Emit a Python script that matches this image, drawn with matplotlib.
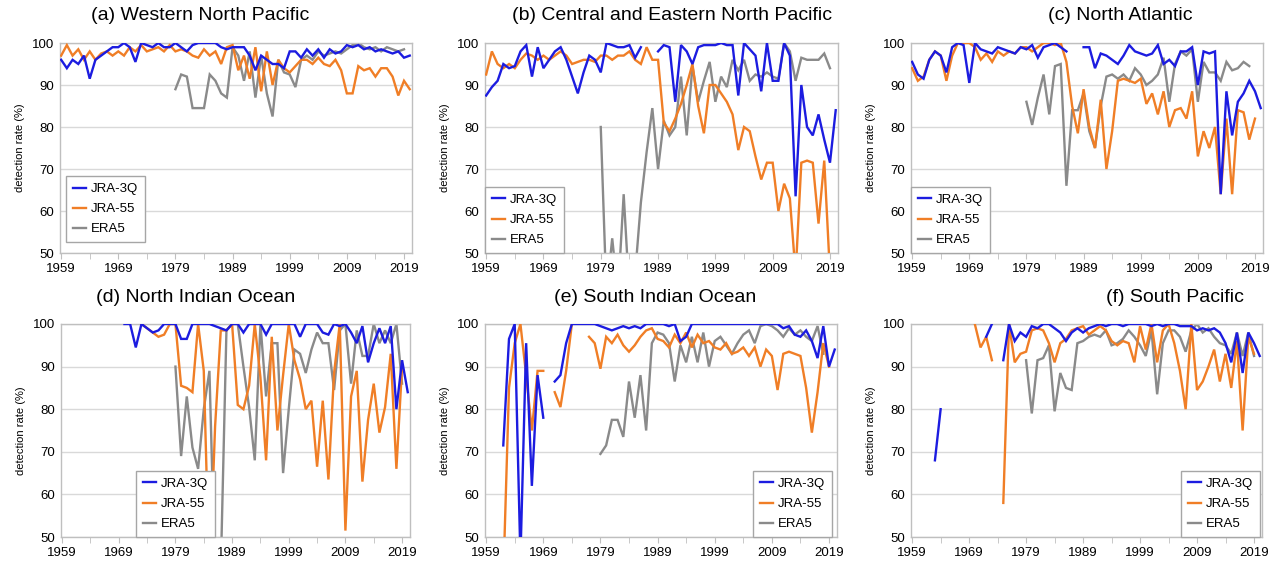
import numpy as np
import matplotlib
matplotlib.use('Agg')
import matplotlib.pyplot as plt
from matplotlib.ticker import MultipleLocator, FixedLocator

plt.rcParams['font.family'] = ['Liberation Sans', 'DejaVu Sans']

nan = np.nan
YEARS = np.arange(1959, 2021)

# (a) Western North Pacific
wnp_jra3q = [96, 94, 96, 95, 97, 91.5, 96, 97, 98, 99,
             99, 100, 99, 95.5, 100, 99.5, 99, 100, 99, 99,
             100, 99, 98, 99.5, 100, 100, 100, 100, 99, 98.5,
             99, 99, 99, 97, 93.5, 97, 96, 95, 95, 94,
             98, 98, 96.5, 98.5, 97, 98.5, 96.5, 98.5, 97.5, 98,
             99.5, 99, 99.5, 98.5, 99, 98, 98.5, 98, 97.5, 98,
             96.5, 97]
wnp_jra55 = [97, 99.5, 97, 98.5, 96, 98, 96, 97.5, 98, 97,
             98, 97, 99, 98, 99.5, 98, 98.5, 99, 98, 99.5,
             98, 98.5, 98, 97, 96.5, 98.5, 97, 98, 95, 99,
             99.5, 93.5, 97, 91.5, 99, 88.5, 98, 90, 96, 94,
             93, 94.5, 96, 96, 95, 96.5, 95, 94.5, 96, 93.5,
             88, 88, 94.5, 93.5, 94, 92, 94, 94, 92, 87.5,
             91, 89]
wnp_era5 = [89, 92.5, 92, 84.5, 84.5, 84.5, 92.5, 91, 88, 87,
            99, 97, 91, 98, 87, 97, 88, 82.5, 96, 93,
            92.5, 89.5, 96, 97, 96, 98, 97, 97.5, 98, 97.5,
            98.5, 99.5, 100, 99, 98.5, 99, 98, 99, 98.5, 98, 98.5]

# (b) Central and Eastern North Pacific
cenp_jra3q = [87.5, 89.5, 91, 95, 94, 94.5, 98, 99.5, 92, 99,
              94, 96, 98, 99, 96, 92, 88, 93, 97, 96,
              93, 100, 99.5, 99, 99, 99.5, 96.5, 99, nan, nan,
              98, 99.5, 99, 86, 99.5, 98, 95, 99, 99.5, 99.5,
              99.5, 100, 99.5, 99.5, 87.5, 100, 98.5, 97, 88.5, 100,
              91, 91, 100, 97, 63.5, 90, 80, 78, 83, 77,
              71.5, 84]
cenp_jra55 = [92.5, 98, 95, 94, 95, 94, 96, 97.5, 97, 96,
              97, 96, 97, 98, 97, 95, 95.5, 96, 96, 95.5,
              97, 97, 96, 97, 97, 98, 96, 95, 99, 96,
              96, 81, 79, 82, 85.5, 90, 95, 85, 78.5, 90,
              90, 88, 86, 83, 74.5, 80, 79, 73, 67.5, 71.5,
              71.5, 60, 66.5, 63, 45, 71.5, 72, 71.5, 57, 72,
              45, nan]
cenp_era5 = [80, 40, 53.5, 40, 64, 40, 45, 62, 74, 84.5,
             70, 81.5, 78, 80, 92, 78, 94.5, 86, 91, 95.5,
             86, 92, 89.5, 96, 93.5, 96, 91, 92.5, 92, 93,
             92, 91.5, 100, 98, 91, 96.5, 96, 96, 96, 97.5, 94]

# (c) North Atlantic
na_jra3q = [95.5, 92.5, 91.5, 96, 98, 97, 93, 99, 100, 99.5,
            90.5, 100, 98.5, 98, 97.5, 99, 98.5, 98, 97.5, 99,
            98.5, 99.5, 96.5, 99, 99.5, 100, 99, 98, nan, nan,
            99, 99, 94, 97.5, 97, 96, 95, 97, 99.5, 98,
            97.5, 97, 97.5, 99.5, 95, 96, 94.5, 98, 98, 99,
            90, 98, 97.5, 98, 64, 88.5, 78, 86, 88, 91,
            88.5, 84.5]
na_jra55 = [94, 91, 92, 96, 98, 97, 91, 97, 100, 100,
            100, 99, 96, 97.5, 95.5, 98, 97, 98, 97.5, 99,
            99, 98, 99, 100, 100, 99.5, 100, 95.5, 85, 78.5,
            89, 80, 75, 86.5, 70, 79, 91, 91.5, 91, 90.5,
            91.5, 85.5, 88, 83, 88.5, 80, 84, 84.5, 82, 88.5,
            73, 79, 75, 80, 64, 82, 64, 84, 83.5, 77,
            82, nan]
na_era5 = [86, 80.5, 87, 92.5, 83, 94.5, 95, 66, 84, 84,
           88, 79, 75, 85, 92, 92.5, 91.5, 92.5, 91, 94,
           92.5, 90, 91, 92.5, 96.5, 86, 95, 98, 97, 98.5,
           86, 95.5, 93, 93, 91, 95.5, 93.5, 94, 95.5, 94.5]

# (d) North Indian Ocean
nio_jra3q = [100, 100, 94.5, 100, 99, 98, 98.5, 100, 100, 100,
             96.5, 96.5, 100, 100, 100, 100, 99.5, 99, 98.5, 100,
             100, 98, 100, 100, 100, 97.5, 100, 100, 100, 100,
             100, 97, 100, 100, 100, 98, 97.5, 100, 99.5, 100,
             98, 95.5, 99.5, 91, 95.5, 99, 95.5, 99.5, 80, 91.5,
             84]
nio_jra55 = [100, 99, 98, 97, 97.5, 100, 100, 85.5, 85, 84,
             100, 89, 40, 76, 98.5, 98.5, 100, 81, 80, 85.5,
             100, 87.5, 68, 97, 75, 88, 100, 91.5, 87, 80,
             82, 66.5, 82, 63.5, 88.5, 100, 51.5, 83, 89, 63,
             77.5, 86, 74.5, 80.5, 93, 66, 90]
nio_era5 = [90, 69, 83, 71, 66, 80, 89, 40, 42, 98.5,
            100, 100, 90, 80.5, 68, 100, 83, 95.5, 95.5, 65,
            80, 94, 93, 88.5, 94, 98, 95.5, 95.5, 84.5, 98.5,
            100, 86, 98.5, 92.5, 92.5, 100, 95.5, 98.5, 95.5, 100, 86]

# (e) South Indian Ocean
sio_jra3q = [71.5, 96.5, 100, 45, 95.5, 62, 88, 78, nan, 86.5,
             88, 95.5, 100, 100, 100, 100, 100, 99.5, 99, 98.5,
             99, 99.5, 99, 99.5, 99, 100, 100, 100, 100, 99.5,
             100, 96, 97, 100, 100, 100, 100, 100, 100, 100,
             100, 100, 100, 100, 100, 100, 100, 100, 100, 99,
             99.5, 97.5, 97, 98.5, 96, 92, 99.5, 90, 94]
sio_jra55 = [40, 85, 95.5, 100, 88, 75, 89, 89, nan, 84,
             80.5, 89, 100, nan, nan, 97, 95.5, 89.5, 97, 95.5,
             97.5, 95, 93.5, 95, 97, 98.5, 99, 96.5, 96, 94.5,
             97.5, 95.5, 98, 94.5, 97.5, 95.5, 96, 94.5, 94, 95.5,
             93, 93.5, 94.5, 92.5, 94.5, 90, 94, 92.5, 84.5, 93,
             93.5, 93, 92.5, 85, 74.5, 84, 95.5, 90]
sio_era5 = [69.5, 71.5, 77.5, 77.5, 73.5, 86.5, 78, 88, 75, 95.5,
            98, 97.5, 95.5, 86.5, 95, 91, 97, 91, 98, 90,
            96, 97, 95, 93, 95.5, 97.5, 98.5, 95.5, 99.5, 100,
            99.5, 98.5, 97, 99, 97.5, 98.5, 97, 96, 99.5, 93]

# (f) South Pacific
sp_jra3q = [68, 80, nan, nan, nan, nan, nan, nan, nan, 97,
            100, nan, 91.5, 100, 96, 98, 97, 99.5, 99, 100,
            100, 99, 98, 96, 98, 99, 98, 99, 99.5, 100,
            99.5, 100, 100, 99.5, 100, 100, 100, 100, 99.5, 100,
            99.5, 100, 100, 99.5, 99.5, 99.5, 98.5, 99, 98.5, 99,
            98, 95.5, 91, 98, 88.5, 98, 95.5, 92.5]
sp_jra55 = [100, 94.5, 97, 91.5, nan, 58, 100, 91, 93, 93.5,
            98.5, 99, 98.5, 95.5, 91, 95.5, 96.5, 98.5, 99, 99.5,
            97.5, 98.5, 99.5, 98.5, 96, 95, 96, 95.5, 91, 99.5,
            94, 100, 91, 98.5, 100, 95.5, 89, 80, 100, 84.5,
            86.5, 90, 94, 86.5, 93, 85, 96, 75, 97, 93]
sp_era5 = [91.5, 79, 91.5, 92, 95, 79.5, 88.5, 85, 84.5, 95.5,
           96, 97, 97.5, 97, 98.5, 95, 95.5, 96.5, 98.5, 97,
           95, 92.5, 98.5, 83.5, 95.5, 98.5, 98.5, 97, 93.5, 98.5,
           100, 98, 99, 97, 95.5, 95, 93, 98, 92.5, 98, 92.5]

SERIES_NAMES = ['JRA-3Q', 'JRA-55', 'ERA5']
COLORS = ['#1c1ce0', '#f07e26', '#8a8a8a']


def series(start, vals):
    arr = np.full(len(YEARS), np.nan)
    i = start - YEARS[0]
    arr[i:i + len(vals)] = vals
    return arr


panels = [
    ('(a) Western North Pacific', [series(1959, wnp_jra3q), series(1959, wnp_jra55), series(1979, wnp_era5)]),
    ('(b) Central and Eastern North Pacific', [series(1959, cenp_jra3q), series(1959, cenp_jra55), series(1979, cenp_era5)]),
    ('(c) North Atlantic', [series(1959, na_jra3q), series(1959, na_jra55), series(1979, na_era5)]),
    ('(d) North Indian Ocean', [series(1970, nio_jra3q), series(1973, nio_jra55), series(1979, nio_era5)]),
    ('(e) South Indian Ocean', [series(1962, sio_jra3q), series(1962, sio_jra55), series(1979, sio_era5)]),
    ('(f) South Pacific', [series(1963, sp_jra3q), series(1970, sp_jra55), series(1979, sp_era5)]),
]

W, H = 1285, 564
# axes boxes in pixels: left, top, right, bottom
boxes = [(60, 43, 412, 253), (485, 43, 838, 253), (911, 43, 1263, 253),
         (61, 324, 410, 537), (485, 324, 837, 537), (911, 324, 1262, 537)]
title_pos = [(200, 16), (672, 16), (1120, 16), (196, 298), (655, 298), (1175, 298)]
# legend anchor (axes fraction) and loc
legend_pos = [((0.017, 0.052), 'lower left'), ((0.0, 0.0), 'lower left'),
              ((0.0, 0.0), 'lower left'), ((0.215, 0.0), 'lower left'),
              ((0.986, 0.0), 'lower right'), ((0.994, 0.0), 'lower right')]

fig = plt.figure(figsize=(W / 100, H / 100), dpi=100)

for k, (title, data) in enumerate(panels):
    l, t, r, b = boxes[k]
    ax = fig.add_axes([l / W, 1 - b / H, (r - l) / W, (b - t) / H])
    for j in range(3):
        ax.plot(YEARS, data[j], color=COLORS[j], lw=1.7, label=SERIES_NAMES[j],
                zorder=4 - j, solid_joinstyle='miter')
    ax.set_xlim(1958.8, 2020.4)
    ax.set_ylim(50, 100)
    ax.yaxis.set_major_locator(MultipleLocator(10))
    ax.xaxis.set_major_locator(FixedLocator(np.arange(1959, 2020, 10)))
    ax.xaxis.set_minor_locator(FixedLocator(np.arange(1964, 2020, 10)))
    ax.grid(axis='y', color='#d9d9d9', lw=1.0, zorder=0)
    ax.set_axisbelow(True)
    for s in ax.spines.values():
        s.set_color('#bfbfbf')
        s.set_linewidth(1.0)
    ax.tick_params(axis='x', which='both', direction='out', length=4, color='#bfbfbf',
                   labelsize=9.5, pad=3)
    ax.tick_params(axis='y', length=0, labelsize=9.5, pad=4)
    ax.set_ylabel('detection rate (%)', fontsize=8, labelpad=5)
    fig.text(title_pos[k][0] / W, 1 - title_pos[k][1] / H, title,
             ha='center', va='center', fontsize=14)
    anchor, loc = legend_pos[k]
    leg = ax.legend(loc=loc, bbox_to_anchor=anchor, fontsize=9.5, handlelength=1.0,
                    handletextpad=0.4, labelspacing=0.6, borderaxespad=0,
                    fancybox=False, framealpha=1, edgecolor='#a6a6a6', borderpad=0.5)
    leg.get_frame().set_linewidth(1.0)
    leg.set_zorder(10)

fig.savefig('out.png', dpi=100)
